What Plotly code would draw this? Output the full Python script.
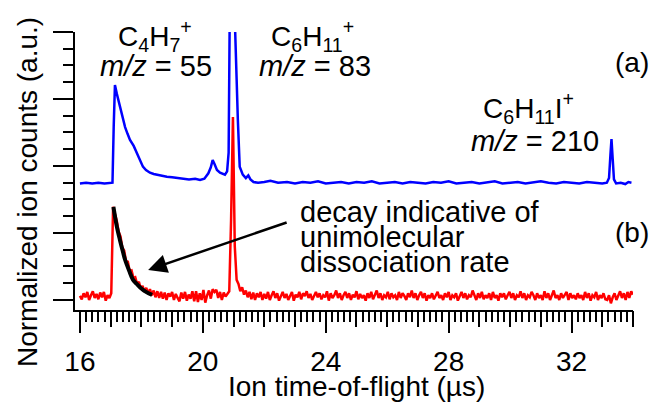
import plotly.graph_objects as go

# ---------------- data ----------------
# (a) blue trace: time-of-flight (us) and normalized counts (offset for display)
blue_t = [16.00, 16.20, 16.40, 16.60, 16.80, 17.00, 17.06, 17.10, 17.14, 17.20,
          17.30, 17.40, 17.47, 17.55, 17.63, 17.75, 17.86, 17.95, 18.05, 18.15,
          18.28, 18.40, 18.51, 18.65, 18.83, 19.00, 19.20, 19.36, 19.55, 19.75,
          19.91, 20.05, 20.18, 20.26, 20.32, 20.38, 20.46, 20.56, 20.64, 20.72,
          20.79, 20.84, 20.88, 20.95, 21.02, 21.06, 21.08, 21.10, 21.14, 21.20,
          21.30, 21.40, 21.48, 21.55, 21.65, 21.80, 22.00, 22.20, 22.45, 22.74,
          23.00, 23.25, 23.50, 23.75, 24.00, 24.25, 24.50, 24.75, 25.00, 25.25,
          25.50, 25.75, 26.00, 26.25, 26.50, 26.75, 27.00, 27.25, 27.50, 27.75,
          28.00, 28.25, 28.50, 28.75, 29.00, 29.25, 29.50, 29.75, 30.00, 30.25,
          30.50, 30.75, 31.00, 31.25, 31.50, 31.75, 32.00, 32.25, 32.50, 32.75,
          33.00, 33.15, 33.22, 33.27, 33.30, 33.34, 33.38, 33.45, 33.60, 33.75,
          33.85, 33.95]
blue_y = [1.74, 1.75, 1.74, 1.75, 1.74, 1.74, 1.75, 2.60, 3.21, 3.08,
          2.88, 2.70, 2.58, 2.48, 2.39, 2.30, 2.19, 2.08, 1.99, 1.94,
          1.90, 1.88, 1.87, 1.85, 1.84, 1.83, 1.82, 1.82, 1.80, 1.81,
          1.79, 1.81, 1.89, 1.98, 2.09, 2.03, 1.94, 1.90, 1.88, 1.87,
          1.92, 2.20, 4.50, 5.50, 4.50, 3.70, 3.61, 3.30, 2.69, 1.99,
          1.87, 1.82, 1.86, 1.80, 1.76, 1.75, 1.76, 1.78, 1.75, 1.76,
          1.74, 1.76, 1.75, 1.77, 1.74, 1.75, 1.76, 1.74, 1.76, 1.75,
          1.77, 1.74, 1.75, 1.76, 1.74, 1.76, 1.75, 1.74, 1.76, 1.75,
          1.77, 1.74, 1.75, 1.76, 1.74, 1.75, 1.77, 1.74, 1.75, 1.76,
          1.74, 1.75, 1.77, 1.75, 1.74, 1.76, 1.75, 1.74, 1.76, 1.75,
          1.74, 1.75, 1.82, 2.20, 2.40, 2.10, 1.80, 1.74, 1.75, 1.73,
          1.76, 1.75]

# (b) red trace: sampled every 0.06 us starting at 16.00 us
red_t0 = 16.0
red_dt = 0.06
red_y = [
    0.06, 0.01, 0.10, 0.04, 0.12, 0.00, 0.07, 0.13, 0.03, 0.09,
    0.01, 0.11, 0.04, 0.12, -0.01, 0.07, 0.03, 0.10, 1.39, 1.30,
    1.18, 1.02, 0.95, 0.78, 0.74, 0.58, 0.57, 0.43, 0.44, 0.33,
    0.34, 0.24, 0.27, 0.17, 0.21, 0.12, 0.18, 0.09, 0.16, 0.07,
    0.14, 0.04, 0.13, 0.03, 0.12, 0.02, 0.11, 0.00, 0.10, 0.05,
    0.12, 0.00, 0.09, 0.03, -0.02, 0.11, 0.02, 0.12, -0.01, 0.08,
    0.02, 0.13, -0.02, 0.13, -0.03, 0.10, 0.00, 0.15, -0.04, 0.07,
    0.14, 0.02, 0.16, 0.12, 0.15, 0.03, 0.12, 0.00, 0.11, 0.05,
    0.10, 0.13, 1.20, 2.73, 0.80, 0.30, 0.24, 0.13, 0.19, 0.08,
    0.14, 0.04, 0.12, 0.01, 0.11, 0.00, 0.10, 0.04, 0.12, 0.00,
    0.09, 0.02, 0.12, 0.00, 0.07, 0.13, 0.03, 0.10, -0.01, 0.07,
    0.12, 0.03, 0.09, 0.00, 0.06, 0.12, -0.01, 0.08, 0.04, 0.12,
    0.01, 0.10, 0.06, 0.13, 0.03, 0.09, 0.00, 0.07, 0.12, 0.04,
    0.10, 0.01, 0.07, 0.04, 0.13, -0.01, 0.10, 0.03, 0.07, 0.14,
    0.03, 0.10, 0.00, 0.07, 0.12, 0.03, 0.10, 0.00, 0.08, 0.04,
    0.13, 0.01, 0.09, 0.03, 0.07, -0.01, 0.10, 0.03, 0.12, 0.01,
    0.07, 0.14, 0.03, 0.10, 0.00, 0.07, 0.04, 0.12, 0.01, 0.10,
    0.04, 0.07, 0.00, 0.12, 0.03, 0.10, 0.06, 0.00, 0.10, 0.04,
    0.14, 0.03, 0.10, 0.00, 0.07, 0.12, 0.03, 0.10, -0.01, 0.07,
    0.03, 0.10, 0.01, 0.07, 0.12, 0.03, 0.07, 0.00, 0.10, 0.04,
    0.12, 0.00, 0.07, 0.04, 0.10, -0.01, 0.07, 0.12, 0.03, 0.10,
    0.01, 0.07, 0.04, 0.14, 0.07, 0.00, 0.10, 0.03, 0.12, 0.01,
    0.07, 0.03, 0.10, 0.00, 0.12, 0.03, 0.07, -0.01, 0.10, 0.04,
    0.10, 0.01, 0.07, 0.12, 0.03, 0.10, 0.00, 0.07, 0.04, 0.13,
    0.03, 0.10, 0.00, 0.07, 0.04, 0.12, 0.07, 0.00, 0.10, 0.03,
    0.07, 0.00, 0.13, 0.03, 0.10, 0.00, 0.07, 0.14, 0.03, 0.07,
    0.00, 0.10, 0.03, 0.07, 0.12, 0.00, 0.10, 0.03, 0.07, 0.01,
    0.10, 0.03, 0.07, 0.00, 0.12, 0.03, 0.10, -0.01, 0.07, 0.04,
    0.12, 0.00, 0.07, 0.03, 0.10, 0.01, 0.00, 0.07, -0.05, 0.04,
    0.10, 0.00, 0.07, 0.13, 0.03, 0.10, 0.00, 0.12, 0.03, 0.13,
    0.08]
red_t = [round(red_t0 + red_dt * i, 3) for i in range(len(red_y))]

# black: exponential decay fit
fit_t = [17.09, 17.20, 17.30, 17.40, 17.47, 17.60, 17.73, 17.85, 18.00, 18.15, 18.35]
fit_y = [1.39, 1.10, 0.90, 0.72, 0.60, 0.44, 0.30, 0.24, 0.17, 0.12, 0.075]

x_range = [15.84, 34.0]
y_range = [-0.15, 4.0]
x_major_ticks = [16, 20, 24, 28, 32]

FONT = "Liberation Sans, Arial, Helvetica, sans-serif"
FS = 28

fig = go.Figure()
fig.add_trace(go.Scatter(x=blue_t, y=blue_y, mode="lines",
                         line=dict(color="#0000ff", width=2.5), showlegend=False))
fig.add_trace(go.Scatter(x=red_t, y=red_y, mode="lines",
                         line=dict(color="#ff0000", width=2.5), showlegend=False))
fig.add_trace(go.Scatter(x=fit_t, y=fit_y, mode="lines", xaxis="x2",
                         line=dict(color="black", width=4, shape="spline"),
                         showlegend=False))

L, R, T, B = 75, 633, 32, 310
W, H = 652, 402


def paper(px, py):
    return (px - L) / (R - L), (B - py) / (B - T)


annotations = []


def text(s, px, py, xanchor="center", angle=0, size=FS):
    x, y = paper(px, py)
    annotations.append(dict(text=s, x=x, y=y, xref="paper", yref="paper",
                            xanchor=xanchor, yanchor="middle", showarrow=False,
                            textangle=angle,
                            font=dict(family=FONT, size=size, color="black")))


text("C<sub>4</sub>H<sub>7</sub><sup>+</sup>", 155, 36)
text("<i>m/z</i> = 55", 156, 66, size=29)
text("C<sub>6</sub>H<sub>11</sub><sup>+</sup>", 312, 36)
text("<i>m/z</i> = 83", 315, 66, size=29)
text("C<sub>6</sub>H<sub>11</sub>I<sup>+</sup>", 528, 108)
text("<i>m/z</i> = 210", 535, 141, size=29)
text("(a)", 632, 63)
text("(b)", 632, 232)
text("decay indicative of", 298, 212, xanchor="left", size=29)
text("unimolecular", 298, 237, xanchor="left", size=29)
text("dissociation rate", 298, 262, xanchor="left", size=29)
text("Ion time-of-flight (µs)", 356, 386)
text("Normalized ion counts (a.u.)", 27, 192, angle=-90)

# arrow
annotations.append(dict(x=18.22, y=0.448, xref="x", yref="y", text="",
                        showarrow=True, ax=140, ay=-48, axref="pixel", ayref="pixel",
                        arrowhead=2, arrowsize=1.5, arrowwidth=2.5,
                        arrowcolor="black", standoff=0))

fig.update_layout(
    width=W, height=H,
    margin=dict(l=L, r=W - R, t=T, b=H - B, pad=0),
    paper_bgcolor="white", plot_bgcolor="white",
    font=dict(family=FONT, size=FS, color="black"),
    annotations=annotations,
    xaxis=dict(range=x_range, showline=True, linewidth=2, linecolor="black",
               ticks="outside", ticklen=21, tickwidth=2, tickcolor="black",
               tickvals=x_major_ticks, ticktext=[str(v) for v in x_major_ticks],
               tickfont=dict(family=FONT, size=FS, color="black"),
               ticklabelstandoff=4,
               showgrid=False, zeroline=False,
               minor=dict(ticks="outside", ticklen=10, tickwidth=2, tickcolor="black",
                          dtick=0.2, tick0=16, showgrid=False)),
    xaxis2=dict(range=x_range, overlaying="x", anchor="y", side="bottom",
                showline=False, ticks="outside", ticklen=16, tickwidth=2,
                tickcolor="black", dtick=1, tick0=16, showticklabels=False,
                showgrid=False, zeroline=False),
    yaxis=dict(range=y_range, showline=True, linewidth=2, linecolor="black",
               ticks="outside", ticklen=20, tickwidth=2, tickcolor="black",
               dtick=1, tick0=0, showticklabels=False,
               showgrid=False, zeroline=False,
               minor=dict(ticks="outside", ticklen=10, tickwidth=2, tickcolor="black",
                          dtick=0.25, tick0=0, showgrid=False)),
)

fig.write_html("out.html")
